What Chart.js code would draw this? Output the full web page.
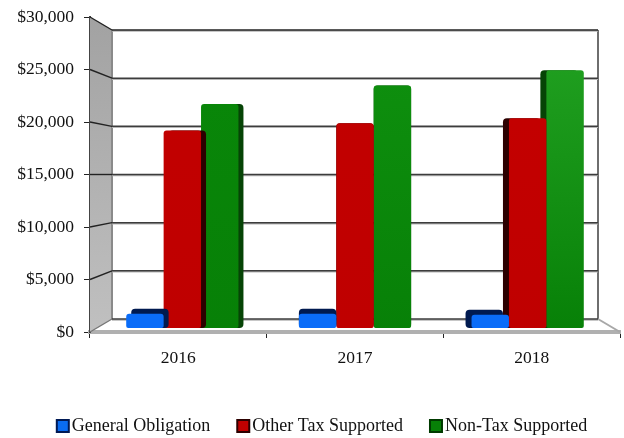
<!DOCTYPE html>
<html>
<head>
<meta charset="utf-8">
<script src="https://cdn.jsdelivr.net/npm/chart.js@4"></script>
<style>
  html, body { margin: 0; padding: 0; background: #fff; }
  #wrap { width: 624px; height: 438px; }
</style>
</head>
<body>
<div id="wrap"><canvas id="chart" width="624" height="438"></canvas></div>
<script>
const years = ["2016", "2017", "2018"];
const generalObligation = [1400, 1400, 1300];
const otherTaxSupported = [19300, 20000, 20500];
const nonTaxSupported = [21900, 23700, 25200];
const yTicks = [0, 5000, 10000, 15000, 20000, 25000, 30000];

const FONT = "'Liberation Serif', 'Times New Roman', serif";
const DEPTH_X = 22, DEPTH_Y = 13;   // how far the back wall sits behind the front axes
const PLOT_TOP = 17;

// Category axis whose span is narrower than the plot, the bars sit inside the 3D box
class InsetCategoryScale extends Chart.CategoryScale {
  configure() {
    super.configure();
    const inset = this.options.inset || 0;
    this._startPixel += inset;
    this._length -= inset * 2;
    this._endPixel = this._startPixel + this._length;
  }
}
InsetCategoryScale.id = "insetCategory";
InsetCategoryScale.defaults = Chart.CategoryScale.defaults;
Chart.register(InsetCategoryScale);

function backY(scale, v) {
  const front = scale.getPixelForValue(v);
  const mid = (scale.top + scale.bottom) / 2;
  return mid + (front - mid) * (1 - 2 * DEPTH_Y / (scale.bottom - scale.top));
}

function line(ctx, x1, y1, x2, y2, color, width) {
  ctx.strokeStyle = color;
  ctx.lineWidth = width;
  ctx.beginPath();
  ctx.moveTo(x1, y1);
  ctx.lineTo(x2, y2);
  ctx.stroke();
}

// Side wall, back wall grid and floor edges
const boxPlugin = {
  id: "box3d",
  afterLayout(chart) {
    // legend row sits further right and lower than the default placement
    const legend = chart.legend;
    legend.left += 10;
    legend.right += 10;
    legend.top += 7;
    legend.bottom += 7;
    // layout leaves the plot a little low, pull the top of both value axes up
    [chart.scales.y, chart.scales.yBars].forEach(s => {
      s.top = PLOT_TOP;
      s.height = s.bottom - s.top;
      s.configure();
    });
    chart.chartArea.top = PLOT_TOP;
    chart.chartArea.height = chart.chartArea.bottom - PLOT_TOP;
  },
  beforeDatasetsDraw(chart) {
    const { ctx, chartArea: a, scales: { y } } = chart;
    const bx = a.left + DEPTH_X, rx = a.right - DEPTH_X;
    const top = backY(y, 30000), bottom = backY(y, 0);
    ctx.save();
    const grad = ctx.createLinearGradient(0, a.top, 0, a.bottom);
    grad.addColorStop(0, "#a2a2a2");
    grad.addColorStop(1, "#c0c0c0");
    ctx.fillStyle = grad;
    ctx.beginPath();
    ctx.moveTo(a.left, a.top);
    ctx.lineTo(bx, top);
    ctx.lineTo(bx, bottom);
    ctx.lineTo(a.left, a.bottom);
    ctx.closePath();
    ctx.fill();
    line(ctx, bx, top, bx, bottom, "#8a8a8a", 2);
    line(ctx, rx, top, rx, bottom, "#6e6e6e", 2);
    line(ctx, rx, bottom, a.right, a.bottom, "#a8a8a8", 2);
    yTicks.forEach(v => {
      const fy = y.getPixelForValue(v), by = backY(y, v);
      if (v > 0) line(ctx, a.left, fy, bx, by, "#222", 1.4);
      else line(ctx, a.left, fy, bx, by, "#777", 1.4);
      line(ctx, bx, by + 1, rx, by + 1, "#b5b5b5", 1.5);
      line(ctx, bx, by, rx, by, v === 30000 ? "#222" : "#3c3c3c", 1.5);
    });
    ctx.restore();
  }
};

// Dark side of every bar: right hand for the first group, left hand for the last
const sideShift = [5, 0, -6];
const barSidePlugin = {
  id: "barSides",
  beforeDatasetDraw(chart, args) {
    const { ctx } = chart;
    const ds = chart.data.datasets[args.index];
    ctx.save();
    ctx.fillStyle = ds.sideColor;
    args.meta.data.forEach((bar, i) => {
      const w = bar.width, up = ds.topDepth;
      ctx.beginPath();
      ctx.roundRect(bar.x - w / 2 + sideShift[i], bar.y - up, w, bar.base - bar.y + up, 4);
      ctx.fill();
    });
    ctx.restore();
  }
};

function fillGradient(tops, bottom) {
  return c => {
    const area = c.chart.chartArea;
    if (!area) return bottom;
    const g = c.chart.ctx.createLinearGradient(0, area.top + 50, 0, area.bottom);
    g.addColorStop(0, tops[c.dataIndex]);
    g.addColorStop(1, bottom);
    return g;
  };
}

function series(label, data, tops, bottom, side, topDepth) {
  return {
    label, data,
    xAxisID: "xBars", yAxisID: "yBars",
    backgroundColor: fillGradient(tops, bottom),
    sideColor: side,
    topDepth,
    borderWidth: 0,
    borderRadius: { topLeft: 3, topRight: 3, bottomLeft: 2, bottomRight: 2 },
    borderSkipped: false,
    categoryPercentage: 0.65,
    barPercentage: 1
  };
}

new Chart(document.getElementById("chart"), {
  type: "bar",
  data: {
    labels: years,
    datasets: [
      series("General Obligation", generalObligation, ["#0a6cf8", "#0a6cf8", "#0a6cf8"], "#0a6cf8", "#001a50", 5),
      series("Other Tax Supported", otherTaxSupported, ["#c20000", "#c20000", "#c40000"], "#bf0000", "#2c0000", 0),
      series("Non-Tax Supported", nonTaxSupported, ["#098709", "#0e8f0e", "#1f9e1f"], "#078007", "#064406", 0)
    ]
  },
  plugins: [boxPlugin, barSidePlugin],
  options: {
    responsive: false,
    animation: false,
    layout: { autoPadding: false, padding: { left: 10, right: 4, top: 17, bottom: 0 } },
    plugins: {
      tooltip: { enabled: false },
      legend: {
        position: "bottom",
        labels: {
          color: "#111",
          font: { family: FONT, size: 18 },
          usePointStyle: true,
          boxWidth: 0.01,   // keeps the swatch tight against the text
          boxHeight: 12,
          padding: 33,
          generateLabels(chart) {
            const fills = ["#0a6cf2", "#c00000", "#078007"];
            const edges = ["#001a55", "#2c0000", "#003a00"];
            return chart.data.datasets.map((d, i) => ({
              text: d.label, fillStyle: fills[i], strokeStyle: edges[i],
              lineWidth: 2, pointStyle: "rect", datasetIndex: i, fontColor: "#111"
            }));
          }
        }
      }
    },
    scales: {
      x: {
        type: "category",
        position: "bottom",
        afterFit: s => { s.height = 45; },
        grid: { drawOnChartArea: false, drawTicks: true, tickLength: 6, color: "#222", offset: true },
        border: { color: "#b0b0b0", width: 4 },
        ticks: { color: "#111", font: { family: FONT, size: 17.5 }, padding: 10, maxRotation: 0 }
      },
      xBars: {
        type: "insetCategory",
        inset: 6,
        display: false,
        labels: years,
        offset: true,
        grid: { offset: true }
      },
      y: {
        min: 0,
        max: 30000,
        afterFit: s => { s.width = 80; },
        afterBuildTicks: s => { s.ticks = yTicks.map(value => ({ value })); },
        grid: { drawOnChartArea: false, drawTicks: true, tickLength: 6, color: "#222" },
        border: { color: "#444", width: 2 },
        ticks: {
          color: "#111",
          font: { family: FONT, size: 17.5 },
          padding: 10,
          callback: v => "$" + v.toLocaleString("en-US")
        }
      },
      yBars: {
        // bars stand a little inside the box, so their zero is above the front axis
        min: -392,
        max: 30392,
        display: false
      }
    }
  }
});
</script>
</body>
</html>
